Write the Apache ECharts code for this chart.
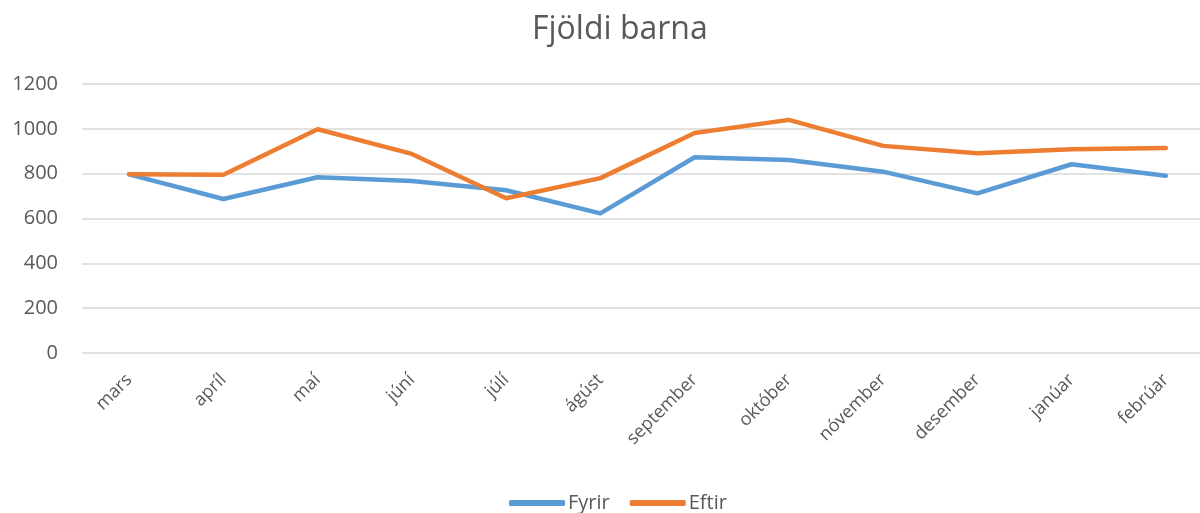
<!DOCTYPE html>
<html>
<head>
<meta charset="utf-8">
<script src="https://cdn.jsdelivr.net/npm/echarts@6/dist/echarts.min.js"></script>
<style>
  html, body { margin: 0; padding: 0; background: #fff; }
  #chart { width: 1200px; height: 513px; }
</style>
</head>
<body>
<div id="chart"></div>
<script>
// manudir
var manudir = ['mars', 'apríl', 'maí', 'júní', 'júlí', 'ágúst', 'september', 'október', 'nóvember', 'desember', 'janúar', 'febrúar'];
// fjoldi barna fyrir / eftir
var fyrir = [797, 687, 784, 767, 726, 623, 873, 861, 809, 712, 842, 791];
var eftir = [797, 795, 998, 888, 690, 780, 981, 1040, 924, 891, 909, 914];

var font = '"Open Sans", sans-serif';
var gra = '#595959';

var chart = echarts.init(document.getElementById('chart'));
var option = {
  animation: false,
  title: {
    text: 'Fjöldi barna',
    left: 527,
    top: 9,
    textStyle: { fontFamily: font, fontSize: 32, fontWeight: 'normal', color: gra }
  },
  legend: {
    top: 488,
    left: 504,
    itemWidth: 56,
    itemHeight: 6,
    itemGap: 20,
    icon: 'roundRect',
    textStyle: { fontFamily: font, fontSize: 20, color: gra, padding: [0, 0, 0, -2] },
    data: ['Fyrir', 'Eftir']
  },
  grid: { left: 82, width: 1131, top: 84, height: 269, outerBoundsMode: 'none' },
  xAxis: {
    type: 'category',
    data: manudir,
    boundaryGap: true,
    axisLine: { show: false },
    axisTick: { show: false },
    axisLabel: { rotate: 45, margin: 24, fontFamily: font, fontSize: 18, color: gra }
  },
  yAxis: {
    type: 'value',
    min: 0,
    max: 1200,
    interval: 200,
    axisLine: { show: false },
    axisTick: { show: false },
    axisLabel: {
      margin: 24, fontFamily: font, fontSize: 20, color: gra,
      formatter: function (v) { return String(v); }
    },
    splitLine: { lineStyle: { color: '#d9d9d9', width: 1.5 } }
  },
  series: [
    {
      name: 'Fyrir',
      type: 'line',
      data: fyrir,
      symbol: 'none',
      color: '#5B9BD5',
      lineStyle: { width: 4.5, cap: 'round', join: 'round' }
    },
    {
      name: 'Eftir',
      type: 'line',
      data: eftir,
      symbol: 'none',
      color: '#ED7D31',
      lineStyle: { width: 4.5, cap: 'round', join: 'round' }
    }
  ]
};
chart.setOption(option);
</script>
</body>
</html>
